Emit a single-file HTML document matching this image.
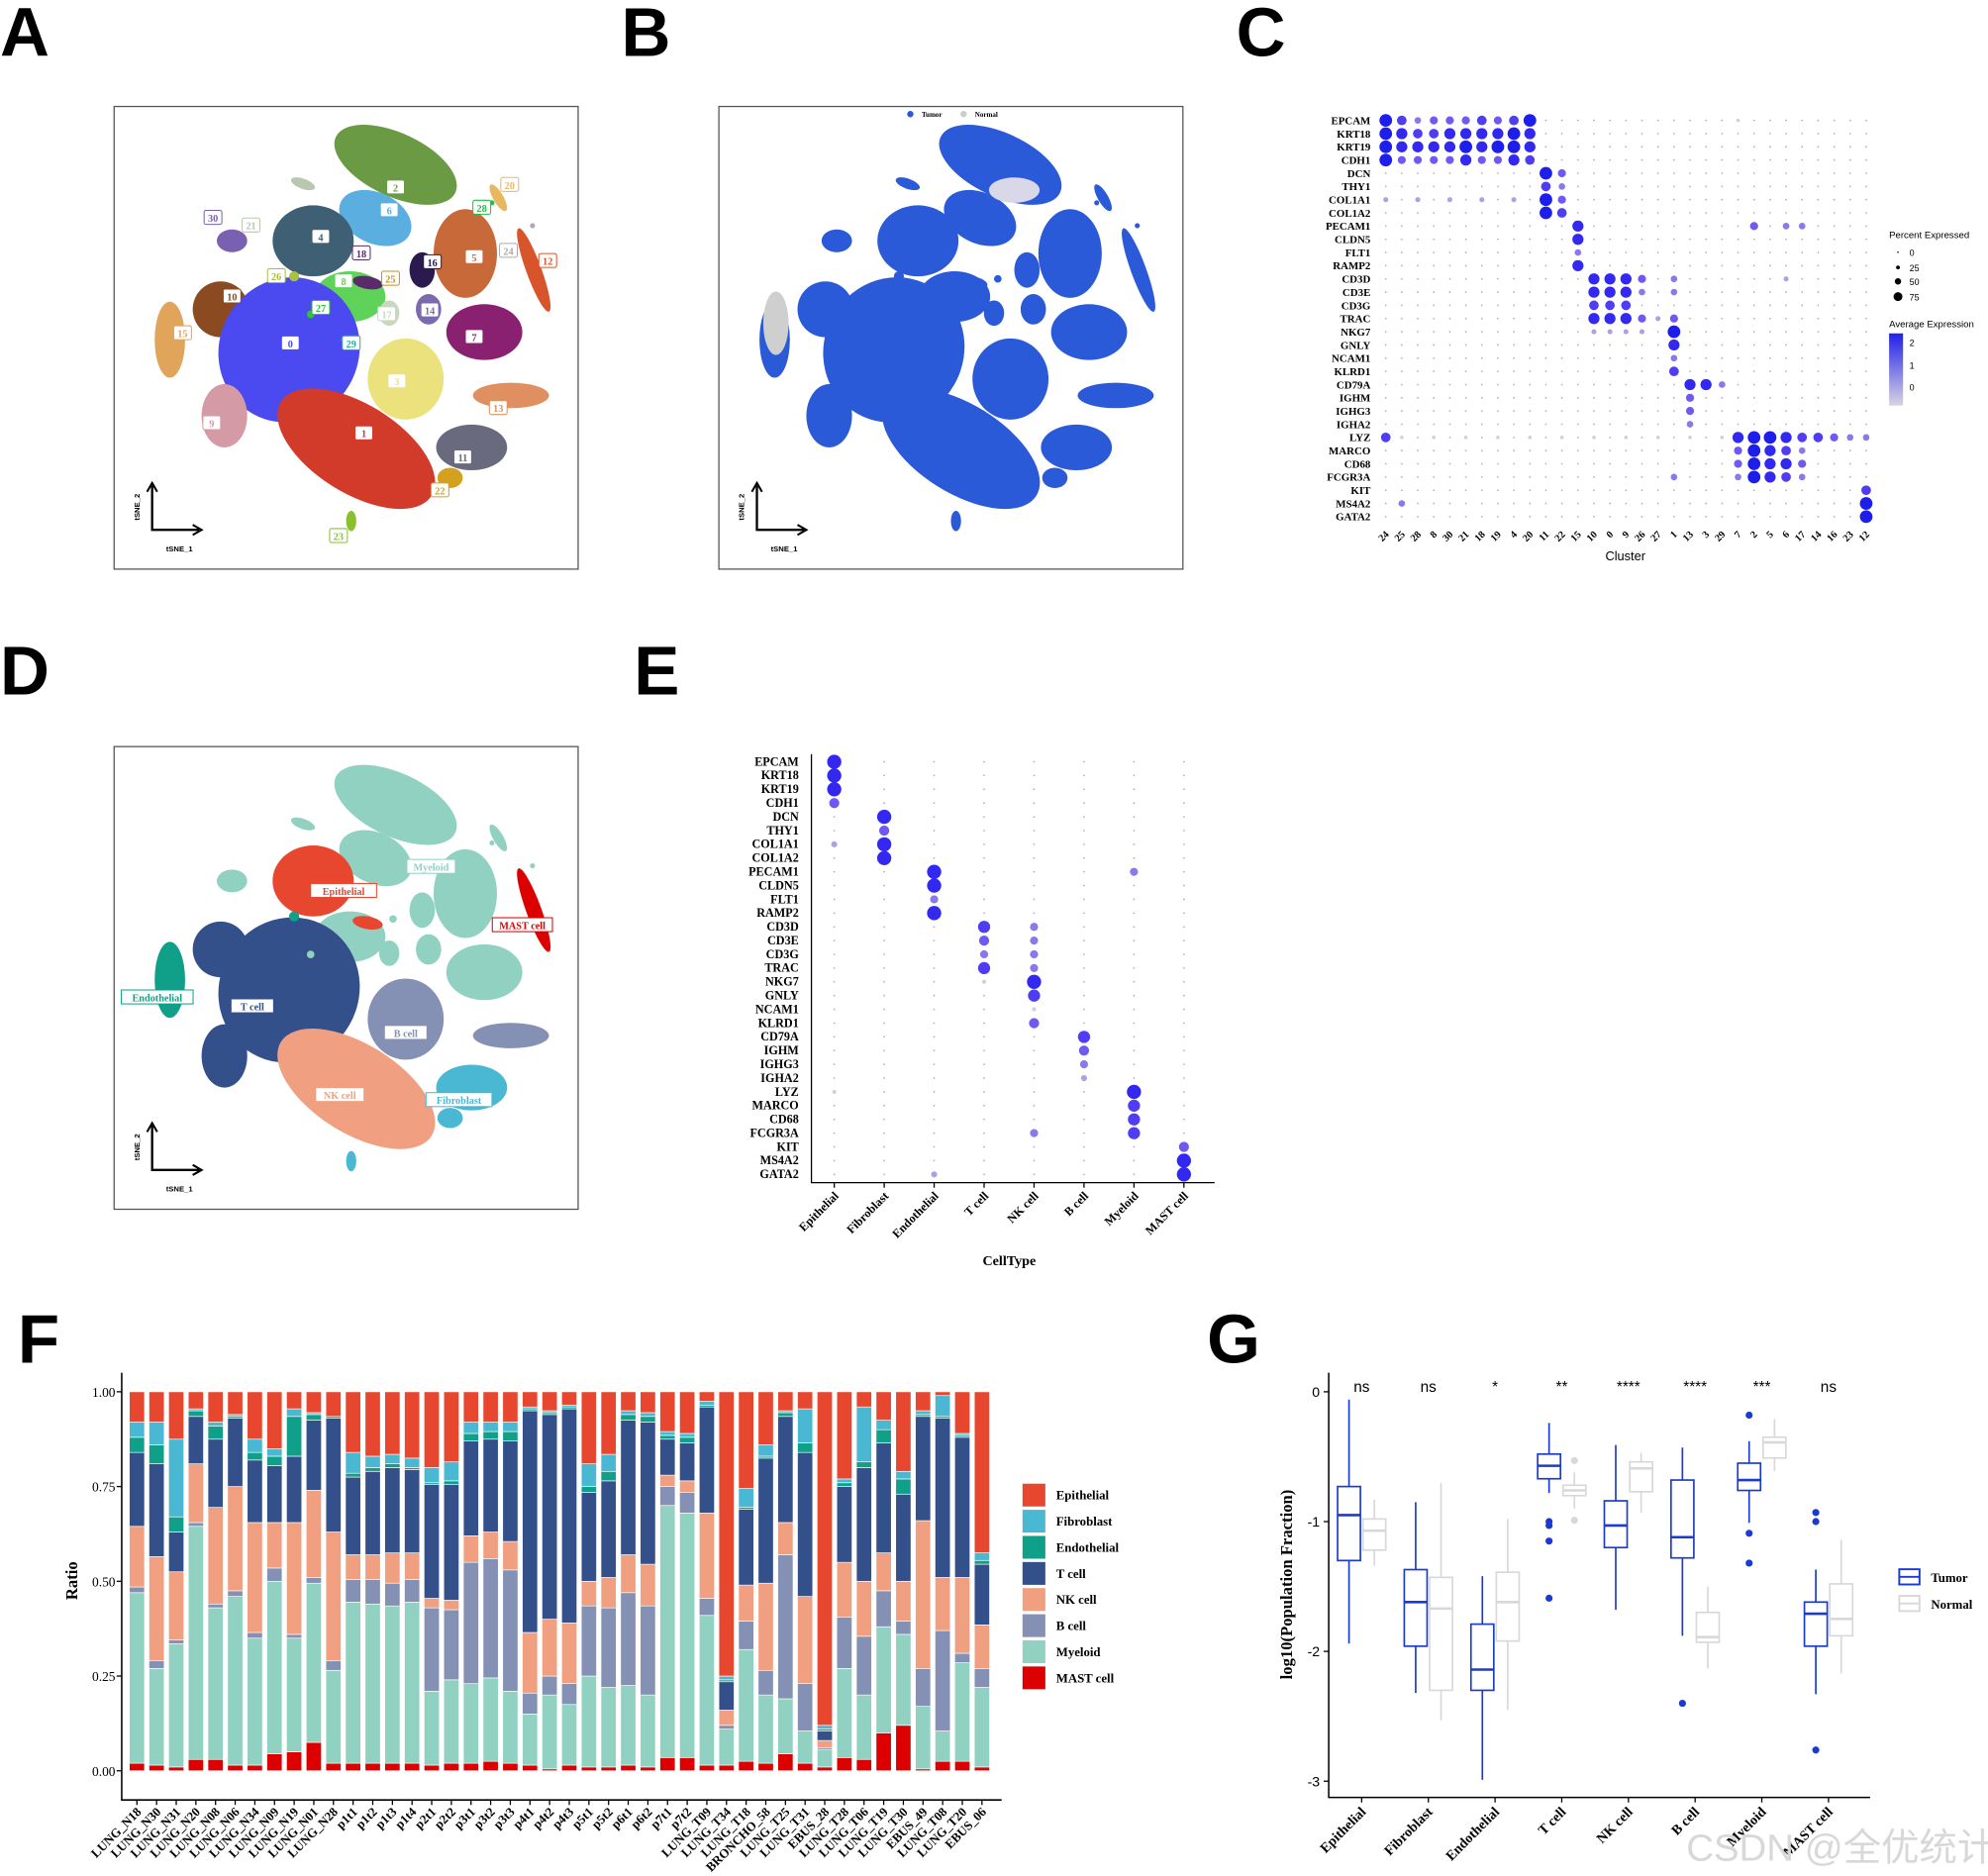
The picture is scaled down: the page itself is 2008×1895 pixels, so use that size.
<!DOCTYPE html>
<html><head><meta charset="utf-8"><style>
html,body{margin:0;padding:0;background:#fff;}
svg{display:block;}
text{font-family:"Liberation Serif",serif;}
.sans{font-family:"Liberation Sans","DejaVu Sans",sans-serif;}
</style></head><body>
<svg id="fig" width="2008" height="1895" viewBox="0 0 1568 1480" preserveAspectRatio="none" xmlns="http://www.w3.org/2000/svg">
<g class="sans" font-weight="bold" font-size="54" fill="#000">
<text x="0" y="44" class="sans">A</text>
<text x="490" y="44" class="sans">B</text>
<text x="975" y="44" class="sans">C</text>
<text x="0" y="548" class="sans">D</text>
<text x="500" y="548" class="sans">E</text>
<text x="14" y="1075" class="sans">F</text>
<text x="952" y="1075" class="sans">G</text>
</g>
<rect x="90" y="84" width="366" height="365" fill="none" stroke="#555" stroke-width="1"/>
<rect x="567" y="84" width="366" height="365" fill="none" stroke="#555" stroke-width="1"/>
<rect x="90" y="589" width="366" height="365" fill="none" stroke="#555" stroke-width="1"/>
<g id="gA"></g>
<g id="gB"></g>
<g id="gD"></g>
<g id="gC"></g>
<g id="gE"></g>
<g id="gF"></g>
<g id="gG"></g>
<text x="1330" y="1468" font-size="30" fill="#d8d8d8" class="sans" style="font-family:'Liberation Sans','Noto Sans CJK SC',sans-serif">CSDN @全优统计</text>
</svg>
<script>
// ---------- DATA ----------
var cellTypes = ["Epithelial","Fibroblast","Endothelial","T cell","NK cell","B cell","Myeloid","MAST cell"];
var typeColors = ["#e8472f","#4ab8d3","#10a08a","#34508a","#f0a080","#8491b4","#91d1c2","#dc0000"];
var genes = ["EPCAM","KRT18","KRT19","CDH1","DCN","THY1","COL1A1","COL1A2","PECAM1","CLDN5","FLT1","RAMP2","CD3D","CD3E","CD3G","TRAC","NKG7","GNLY","NCAM1","KLRD1","CD79A","IGHM","IGHG3","IGHA2","LYZ","MARCO","CD68","FCGR3A","KIT","MS4A2","GATA2"];
var clusterOrder = ["24","25","28","8","30","21","18","19","4","20","11","22","15","10","0","9","26","27","1","13","3","29","7","2","5","6","17","14","16","23","12"];
var dotC = [
"7534445457000000000000100000000",
"7655666676000000000000000000000",
"7666676776000000000000000000000",
"7444464465000000000000000000000",
"0000000000740000000000000000000",
"0000000000530000000000000000000",
"2020202020740000000000000000000",
"0000000000750000000000000000000",
"0000000000006000000000040330000",
"0000000000006000000000000000000",
"0000000000003000000000000000000",
"0000000000006000000000000000000",
"0000000000000666403000000200000",
"0000000000000666303000000000000",
"0000000000000555000000000000000",
"0000000000000666424000000000000",
"0000000000000222207000000000000",
"0000000000000000006000000000000",
"0000000000000000003000000000000",
"0000000000000000005000000000000",
"0000000000000000000663000000000",
"0000000000000000000400000000000",
"0000000000000000000400000000000",
"0000000000000000000300000000000",
"5101010101010101010101677655433",
"0000000000000000000000476530000",
"0000000000000000000000476640000",
"0000000000000000003000376530000",
"0000000000000000000000000000005",
"0300000000000000000000000000007",
"0000000000000000000000000000007"];
var dotE = [
"60000000","60000000","60000000","40000000",
"06000000","04000000","26000000","06000000",
"00600030","00600000","00300000","00600000",
"00053000","00043000","00033000","00053000",
"00016000","00005000","00001000","00004000",
"00000500","00000400","00000300","00000200",
"10000060","00000050","00000050","00003050",
"00000004","00000006","00200006"];
var samples = ["LUNG_N18","LUNG_N30","LUNG_N31","LUNG_N20","LUNG_N08","LUNG_N06","LUNG_N34","LUNG_N09","LUNG_N19","LUNG_N01","LUNG_N28","p1t1","p1t2","p1t3","p1t4","p2t1","p2t2","p3t1","p3t2","p3t3","p4t1","p4t2","p4t3","p5t1","p5t2","p6t1","p6t2","p7t1","p7t2","LUNG_T09","LUNG_T34","LUNG_T18","BRONCHO_58","LUNG_T25","LUNG_T31","EBUS_28","LUNG_T28","LUNG_T06","LUNG_T19","LUNG_T30","EBUS_49","LUNG_T08","LUNG_T20","EBUS_06"];
var mastFrac = [.02,.015,.01,.03,.03,.015,.015,.045,.05,.075,.02,.02,.02,.02,.02,.015,.02,.02,.025,.02,.015,.005,.015,.01,.01,.015,.01,.035,.035,.015,.015,.025,.02,.045,.02,.01,.035,.03,.10,.12,.005,.025,.025,.01];
var myeloidFrac = [.45,.255,.325,.615,.40,.445,.335,.455,.30,.42,.245,.425,.42,.415,.425,.195,.22,.21,.22,.19,.135,.195,.16,.24,.21,.21,.19,.665,.645,.395,.095,.295,.18,.145,.085,.045,.235,.17,.28,.24,.165,.08,.26,.21];
var bFrac = [.015,.02,.01,.01,.01,.015,.015,.035,.01,.015,.025,.06,.065,.06,.06,.22,.185,.32,.315,.32,.055,.05,.055,.185,.21,.245,.235,.05,.055,.045,.01,.075,.065,.38,.125,.005,.135,.155,.095,.035,.10,.265,.025,.05];
var nkFrac = [.16,.275,.18,.155,.255,.275,.29,.12,.295,.23,.34,.065,.065,.08,.07,.025,.025,.07,.07,.075,.16,.15,.16,.065,.08,.10,.11,.03,.03,.225,.04,.095,.23,.085,.23,.02,.145,.145,.10,.105,.39,.14,.20,.115];
var tFrac = [.195,.245,.105,.125,.18,.18,.165,.15,.175,.185,.30,.205,.22,.225,.22,.30,.305,.25,.245,.265,.585,.54,.565,.235,.255,.355,.375,.095,.10,.28,.075,.20,.33,.28,.38,.025,.20,.30,.29,.23,.275,.42,.37,.16];
var endoFrac = [.04,.05,.04,.015,.035,.005,.02,.025,.105,.015,.005,.01,.01,.01,.005,.005,.01,.02,.02,.025,.005,.005,.005,.015,.025,.015,.015,.01,.015,.005,.005,.005,.005,.01,.025,.005,.01,.015,.035,.04,.005,.005,.005,.01];
var fibroFrac = [.04,.06,.205,.005,.01,.005,.035,.02,.02,.005,0,.055,.03,.025,.025,.04,.05,.03,.025,.025,.005,.005,.005,.06,.045,.01,.01,.01,.01,.01,.01,.05,.03,.005,.09,.01,.01,.145,.025,.02,.01,.055,.005,.02];
var fTicks = [0,0.25,0.5,0.75,1];
var fTickLabels = ["0.00","0.25","0.50","0.75","1.00"];
var tumorStats = [[-1.94,-1.30,-0.95,-0.73,-0.06],[-2.32,-1.96,-1.62,-1.37,-0.85],[-2.99,-2.30,-2.14,-1.79,-1.42],[-0.78,-0.67,-0.57,-0.48,-0.24],[-1.68,-1.20,-1.03,-0.84,-0.41],[-1.88,-1.28,-1.12,-0.68,-0.43],[-1.01,-0.76,-0.68,-0.55,-0.38],[-2.33,-1.96,-1.71,-1.62,-1.37]];
var normalStats = [[-1.34,-1.22,-1.07,-0.98,-0.83],[-2.53,-2.30,-1.67,-1.43,-0.70],[-2.45,-1.92,-1.62,-1.39,-0.98],[-0.90,-0.80,-0.76,-0.72,-0.62],[-0.93,-0.77,-0.59,-0.54,-0.47],[-2.13,-1.93,-1.89,-1.70,-1.50],[-0.61,-0.51,-0.39,-0.35,-0.21],[-2.17,-1.88,-1.75,-1.48,-1.14]];
var tumorOutliers = [[],[],[],[-1.0,-1.03,-1.15,-1.59],[],[-2.40],[-0.18,-1.09,-1.32],[-0.93,-1.0,-2.76]];
var normalOutliers = [[],[],[],[-0.53,-0.99],[],[],[],[]];
var sigLabels = ["ns","ns","*","**","****","****","***","ns"];
var gTicks = [0,-1,-2,-3];

var NS="http://www.w3.org/2000/svg";
function mk(tag, parent, attrs){var e=document.createElementNS(NS,tag);for(var k in attrs)e.setAttribute(k,attrs[k]);parent.appendChild(e);return e;}
function txt(parent,x,y,s,size,anchor,extra){var t=mk("text",parent,{x:x,y:y,"font-size":size,"text-anchor":anchor||"start","font-weight":"bold"});if(extra)for(var k in extra)t.setAttribute(k,extra[k]);t.textContent=s;return t;}

var blobs=[
[312,130,52,25,25,"#6b9a45","2",312,148],[296,172,30,20,25,"#5aaee0","6",307,166],[247,190,32,28,0,"#3e5f74","4",253,187],
[367,200,25,35,0,"#c8693a","5",374,203],[333,213,10,14,0,"#2a1a50","16",341,207],[276,234,28,20,0,"#5fd25a","8",271,222],
[174,244,22,22,0,"#8b4a20","10",183,234],[228,276,55,58,30,"#4a4af0","0",229,271],[281,354,70,35,32,"#d23a2a","1",287,342],
[177,328,18,25,0,"#d49aa5","9",167,334],[320,299,30,32,0,"#ebe27e","3",313,301],[382,262,30,22,0,"#8a2070","7",374,266],
[338,244,10,12,0,"#7a6ab0","14",339,245],[134,268,12,30,0,"#e0a55a","15",144,263],[403,312,30,10,0,"#e09060","13",393,322],
[372,353,28,18,0,"#6a6a7e","11",365,361],[355,377,10,8,0,"#d4a020","22",347,387],[421,213,6,35,-20,"#d8542a","12",432,206],
[393,156,4,12,-30,"#e8b860","20",402,146],[183,190,12,9,0,"#7a60b0","30",168,172],[277,411,4,8,0,"#8ac030","23",267,423],
[307,247,8,10,0,"#c8d8c0","17",305,248],[239,145,10,4,20,"#b8c8b0","21",198,178],[290,223,12,5,10,"#5a2a6a","18",285,200],
[388,160,2,2,0,"#20c040","28",380,164],[420,178,2,2,0,"#aaaaaa","24",401,198],[232,218,4,4,0,"#aac040","26",218,218],
[310,220,3,3,0,"#c89020","25",308,220],[245,248,3,3,0,"#30c040","27",253,243],[272,268,3,3,0,"#20b0a0","29",277,271]];
var dMap={"2":6,"6":6,"4":0,"5":6,"16":6,"8":6,"10":3,"0":3,"1":4,"9":3,"3":5,"7":6,"14":6,"15":2,"13":5,"11":1,"22":1,"12":7,"20":6,"30":6,"23":1,"17":6,"21":6,"18":0,"28":6,"24":6,"26":2,"25":6,"27":6,"29":3};
function drawTsne(g,dx,dy,colorFn,withLabels){
  blobs.forEach(function(b){
    var e=mk("ellipse",g,{cx:b[0]+dx,cy:b[1]+dy,rx:b[2],ry:b[3],fill:colorFn(b),transform:"rotate("+b[4]+" "+(b[0]+dx)+" "+(b[1]+dy)+")"});
    
    
  });
  if(withLabels){blobs.forEach(function(b){
    var r=mk("rect",g,{x:b[7]+dx-7,y:b[8]+dy-6,width:14,height:11,fill:"#fff",stroke:b[5],"stroke-width":0.8,rx:1.5});
    
    
    var t=txt(g,b[7]+dx,b[8]+dy+3,b[6],8,"middle",{fill:b[5]});
    
    
  });}
  var ax=mk("path",g,{d:"M"+(120+dx)+" "+(383+dy)+" V"+(418+dy)+" H"+(157+dx),fill:"none",stroke:"#000","stroke-width":1.8});
  
  
  mk("path",g,{d:"M"+(116+dx)+" "+(388+dy)+" L"+(120+dx)+" "+(381+dy)+" L"+(124+dx)+" "+(388+dy)+" M"+(152+dx)+" "+(414+dy)+" L"+(159+dx)+" "+(418+dy)+" L"+(152+dx)+" "+(422+dy),fill:"none",stroke:"#000","stroke-width":1.6});
  var t1=txt(g,131+dx,435+dy,"tSNE_1",6,"start",{class:"sans"});
  
  
  var t2=txt(g,110+dx,400+dy,"tSNE_2",6,"middle",{class:"sans",transform:"rotate(-90 "+(110+dx)+" "+(400+dy)+")"});
  
  
}
drawTsne(document.getElementById("gA"),0,0,function(b){return b[5];},true);
drawTsne(document.getElementById("gB"),477,0,function(b){return "#2a5ad8";},false);
(function(){var g=document.getElementById("gB");
 mk("ellipse",g,{cx:612,cy:255,rx:10,ry:25,fill:"#cfcfcf"});
 mk("ellipse",g,{cx:800,cy:150,rx:20,ry:10,fill:"#d8d8e8"});
 var l1=mk("circle",g,{cx:718,cy:90,r:2.5,fill:"#2a5ad8"});
 
 
 var t=txt(g,727,92,"Tumor",5.5,"start");
 
 
 mk("circle",g,{cx:760,cy:90,r:2.5,fill:"#ccc"});
 var t2=txt(g,769,92,"Normal",5.5,"start");
 
 
})();
drawTsne(document.getElementById("gD"),0,505,function(b){return typeColors[dMap[b[6]]];},false);
(function(){var g=document.getElementById("gD");
 var lab=[["Myeloid",340,685,6],["Epithelial",271,704,0],["MAST cell",412,731,7],["Endothelial",124,788,2],["T cell",199,795,3],["B cell",320,816,5],["NK cell",268,865,4],["Fibroblast",362,869,1]];
 lab.forEach(function(l){var w=l[0].length*4.6+6;
  var r=mk("rect",g,{x:l[1]-w/2,y:l[2]-7,width:w,height:11,fill:"#fff",stroke:typeColors[l[3]],"stroke-width":0.8});
  
  
  var t=txt(g,l[1],l[2]+2,l[0],8,"middle",{fill:typeColors[l[3]]});
  
  });
})();

function dotColor(lv){var a=[[210,205,225],[176,160,225],[140,120,235],[110,90,240],[80,60,242],[50,40,240],[30,30,235]];var c=a[Math.min(6,Math.max(0,lv-1))];return "rgb("+c[0]+","+c[1]+","+c[2]+")";}
function dotPlot(g,data,x0,dx,y0,dy,labelX,fs,rk){
  genes.forEach(function(gn,i){var t=txt(g,labelX,y0+i*dy+3,gn,fs,"end");
    
    
    data[i].split("").forEach(function(ch,j){var lv=+ch;
      var c=mk("circle",g,{cx:x0+j*dx,cy:y0+i*dy,r:lv===0?0.7:(0.8+lv*rk),fill:lv===0?"#b0b0c0":dotColor(lv)});
      
      
    });
  });
}
(function(){var g=document.getElementById("gC");
 dotPlot(g,dotC,1093,12.63,95,10.42,1081,8.5,0.6);
 clusterOrder.forEach(function(c,j){var x=1093+j*12.63;var t=txt(g,x+3,422,c,8,"end",{transform:"rotate(-45 "+(x+3)+" 422)"});
  
  });
 var t=txt(g,1282,442,"Cluster",10,"middle",{"font-weight":"normal",class:"sans"});
 
 
 var lt=txt(g,1490,188,"Percent Expressed",7.5,"start",{"font-weight":"normal",class:"sans"});
 
 
 [["0",0.6,199],["25",1.5,211],["50",2.5,222],["75",3.5,234]].forEach(function(l){
  var c=mk("circle",g,{cx:1497,cy:l[2],r:l[1],fill:"#000"});
  
  
  txt(g,1506,l[2]+3,l[0],7,"start",{"font-weight":"normal",class:"sans"});});
 var lt2=txt(g,1490,258,"Average Expression",7.5,"start",{"font-weight":"normal",class:"sans"});
 
 
 var defs=mk("defs",g,{});var lg=mk("linearGradient",defs,{id:"expg",x1:0,y1:0,x2:0,y2:1});
 mk("stop",lg,{offset:"0","stop-color":"#2020e8"});mk("stop",lg,{offset:"1","stop-color":"#d8d4e4"});
 var gb=mk("rect",g,{x:1490,y:263,width:11,height:57,fill:"url(#expg)"});
 
 
 [["2",273],["1",291],["0",308]].forEach(function(l){txt(g,1506,l[1],l[0],7,"start",{"font-weight":"normal",class:"sans"});});
})();
(function(){var g=document.getElementById("gE");
 dotPlot(g,dotE,658,39.4,601,10.85,630,9.5,0.8);
 var ax=mk("path",g,{d:"M640 595 V933 H958",fill:"none",stroke:"#000","stroke-width":1});
 
 
 cellTypes.forEach(function(c,j){var x=658+j*39.4;
  mk("line",g,{x1:x,y1:933,x2:x,y2:937,stroke:"#000"});
  var t=txt(g,x+4,944,c,9.5,"end",{transform:"rotate(-45 "+(x+4)+" 944)"});
  
  });
 var t=txt(g,796,998,"CellType",11,"middle");
 
 
})();

(function(){var g=document.getElementById("gF");
 function xF(i){return 108+i*15.5;}
 function yF(v){return 1397-v*299;}
 var series=[mastFrac,myeloidFrac,bFrac,nkFrac,tFrac,endoFrac,fibroFrac];
 var sColors=[typeColors[7],typeColors[6],typeColors[5],typeColors[4],typeColors[3],typeColors[2],typeColors[1]];
 var sNames=["mast","myeloid","b","nk","t","endothelial","fibroblast"];
 samples.forEach(function(s,i){var cum=0;
  series.forEach(function(arr,k){var v=arr[i];
   var r=mk("rect",g,{x:xF(i)-6,y:yF(cum+v),width:12,height:Math.max(0,v*299),fill:sColors[k],stroke:"#fff","stroke-width":0.5});
   
   
   cum+=v;});
  var re=mk("rect",g,{x:xF(i)-6,y:yF(1),width:12,height:Math.max(0,(1-cum)*299),fill:typeColors[0],stroke:"#fff","stroke-width":0.5});
  
  
  mk("line",g,{x1:xF(i),y1:1420,x2:xF(i),y2:1424,stroke:"#000"});
  var t=txt(g,xF(i)+4,1430,s,10,"end",{transform:"rotate(-45 "+(xF(i)+4)+" 1430)"});
  
  
 });
 var ax=mk("path",g,{d:"M96 1083 V1420 H790",fill:"none",stroke:"#000","stroke-width":1.2});
 
 
 fTicks.forEach(function(v,i){mk("line",g,{x1:92,y1:yF(v),x2:96,y2:yF(v),stroke:"#000"});
  var t=txt(g,91,yF(v)+4,fTickLabels[i],10.5,"end",{"font-weight":"normal"});
  
  });
 var yt=txt(g,61,1247,"Ratio",13,"middle",{transform:"rotate(-90 61 1247)"});
 
 
 cellTypes.forEach(function(c,i){var y=1170+i*20.6;
  var r=mk("rect",g,{x:806,y:y,width:19,height:19,fill:typeColors[i],stroke:"#fff"});
  
  
  var t=txt(g,833,y+13,c,10,"start");
  
  });
})();

(function(){var g=document.getElementById("gG");
 function yG(v){return 1098-v*102.4;}
 function xG(i){return 1074+i*52.6;}
 var ax=mk("path",g,{d:"M1048 1083 V1418 H1475",fill:"none",stroke:"#000","stroke-width":1.2});
 
 
 gTicks.forEach(function(v){mk("line",g,{x1:1044,y1:yG(v),x2:1048,y2:yG(v),stroke:"#000"});
  var t=txt(g,1041,yG(v)+4,String(v),11,"end",{"font-weight":"normal",class:"sans"});
  
  });
 var yt=txt(g,1019,1250,"log10(Population Fraction)",13,"middle",{transform:"rotate(-90 1019 1250)"});
 
 
 function box(cx,st,col,name,outl){
  var w=mk("line",g,{x1:cx,y1:yG(st[4]),x2:cx,y2:yG(st[0]),stroke:col,"stroke-width":1.3});
  
  
  var r=mk("rect",g,{x:cx-9,y:yG(st[3]),width:18,height:yG(st[1])-yG(st[3]),fill:"#fff",stroke:col,"stroke-width":1.3});
  
  
  var m=mk("line",g,{x1:cx-9,y1:yG(st[2]),x2:cx+9,y2:yG(st[2]),stroke:col,"stroke-width":2});
  
  
  outl.forEach(function(o){var c=mk("circle",g,{cx:cx,cy:yG(o),r:2.8,fill:col});
   
   });
 }
 cellTypes.forEach(function(c,i){
  box(xG(i)-10,tumorStats[i],"#1a3ad0","box-tumor-"+i,tumorOutliers[i]);
  box(xG(i)+10,normalStats[i],"#d8d8d8","box-normal-"+i,normalOutliers[i]);
  mk("line",g,{x1:xG(i),y1:1418,x2:xG(i),y2:1422,stroke:"#000"});
  var t=txt(g,xG(i)+4,1430,c,11,"end",{transform:"rotate(-45 "+(xG(i)+4)+" 1430)"});
  
  
  var s=txt(g,xG(i),1098,sigLabels[i],12,"middle",{"font-weight":"normal",class:"sans"});
  
  
 });
 [["Tumor","#1a3ad0",1244],["Normal","#d8d8d8",1265]].forEach(function(l){
  var r=mk("rect",g,{x:1498,y:l[2]-6,width:16,height:12,fill:"#fff",stroke:l[1],"stroke-width":1.5});
  
  
  mk("line",g,{x1:1498,y1:l[2],x2:1514,y2:l[2],stroke:l[1],"stroke-width":1.5});
  var t=txt(g,1523,l[2]+4,l[0],10,"start");
  
  });
})();
</script>
</body></html>
